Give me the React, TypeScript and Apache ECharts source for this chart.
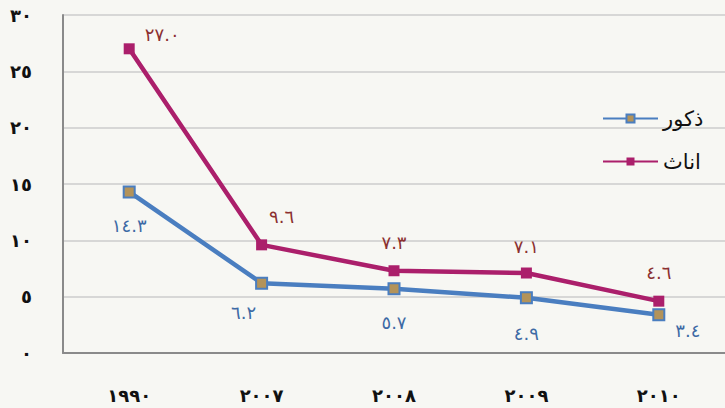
import React, { useEffect, useRef } from "react";
import * as echarts from "echarts";

const categories = ["١٩٩٠", "٢٠٠٧", "٢٠٠٨", "٢٠٠٩", "٢٠١٠"];
const maleName = "ذكور";
const femaleName = "اناث";
const maleValues = [14.3, 6.2, 5.7, 4.9, 3.4];
const femaleValues = [27.0, 9.6, 7.3, 7.1, 4.6];
const maleLabelOffsets = [[0, 4], [-18, 0], [0, 4], [0, 6], [29, -14]];
const femaleLabelOffsets = [[33, 14], [20, 0], [0, 0], [0, 2], [0, 0]];

const toArabic = (s: string) => s.replace(/\d/g, (d) => "٠١٢٣٤٥٦٧٨٩"[Number(d)]);

const FONT = "DejaVu Sans";

export default function App() {
  const ref = useRef<HTMLDivElement>(null);
  useEffect(() => {
    if (!ref.current) return;
    const chart = echarts.init(ref.current, null, { renderer: "svg" });
    chart.setOption({
      animation: false,
      backgroundColor: "#f7f7f3",
      textStyle: { fontFamily: FONT },
      grid: { left: 63, top: 15, width: 670, height: 338 },
      legend: {
        orient: "vertical",
        left: 597,
        top: 103,
        itemWidth: 55,
        itemHeight: 10,
        itemGap: 22,
        textStyle: { fontFamily: FONT, fontSize: 21, color: "#111" },
        data: [maleName, femaleName],
      },
      xAxis: {
        type: "category",
        data: categories,
        boundaryGap: true,
        axisLine: { lineStyle: { color: "#8a8a8a", width: 2 } },
        axisTick: { show: false },
        axisLabel: { margin: 33, fontSize: 18, fontWeight: "bold", color: "#111", fontFamily: FONT },
      },
      yAxis: {
        type: "value",
        min: 0,
        max: 30,
        interval: 5,
        axisLine: { show: true, lineStyle: { color: "#8a8a8a", width: 2 } },
        axisTick: { show: false },
        splitLine: { lineStyle: { color: "#cccccc", width: 1.5 } },
        axisLabel: {
          margin: 31,
          fontSize: 18,
          fontWeight: "bold",
          color: "#111",
          fontFamily: FONT,
          formatter: (v: number) => toArabic(String(v)),
        },
      },
      series: [
        {
          name: maleName,
          type: "line",
          data: maleValues.map((v, i) => ({
            value: v,
            label: { offset: maleLabelOffsets[i] },
          })),
          symbol: "rect",
          symbolSize: 11,
          lineStyle: { color: "#4a7ec0", width: 4.5 },
          itemStyle: { color: "#b3935a", borderColor: "#4a7ec0", borderWidth: 2 },
          label: {
            show: true,
            position: "bottom",
            distance: 14,
            fontSize: 18,
            color: "#3d6aa5",
            fontFamily: FONT,
            formatter: (p: any) => toArabic(Number(p.value).toFixed(1)),
          },
          z: 2,
        },
        {
          name: femaleName,
          type: "line",
          data: femaleValues.map((v, i) => ({
            value: v,
            label: { offset: femaleLabelOffsets[i] },
          })),
          symbol: "rect",
          symbolSize: 11,
          lineStyle: { color: "#ab1f6b", width: 4.5 },
          itemStyle: { color: "#ab1f6b" },
          label: {
            show: true,
            position: "top",
            distance: 14,
            fontSize: 18,
            color: "#8b3030",
            fontFamily: FONT,
            formatter: (p: any) => toArabic(Number(p.value).toFixed(1)),
          },
          z: 3,
        },
      ],
    });
    return () => chart.dispose();
  }, []);
  return (
    <div
      ref={ref}
      style={{ position: "fixed", left: 0, top: 0, width: 725, height: 408 }}
    />
  );
}
